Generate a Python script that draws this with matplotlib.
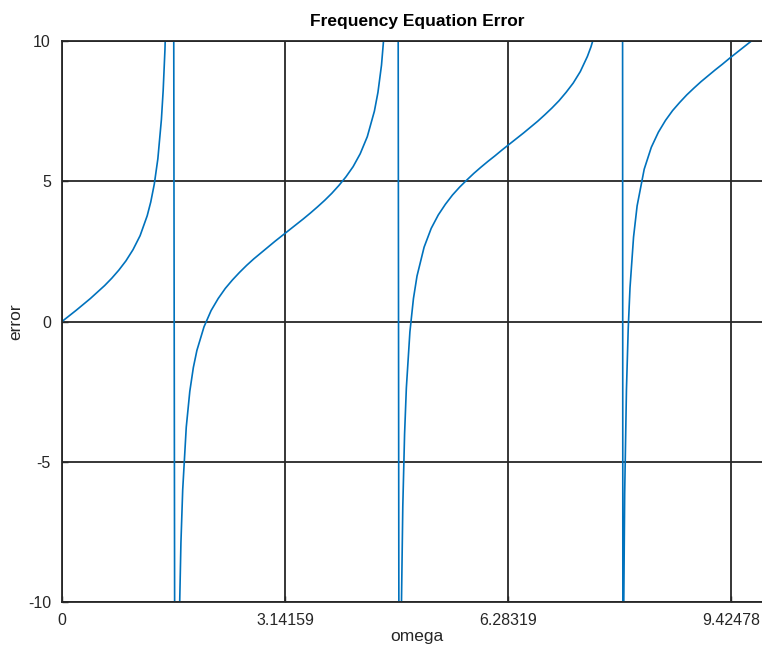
import numpy as np
import matplotlib
matplotlib.use("Agg")
import matplotlib.pyplot as plt

# values (error vs omega), incl. the jumps at the asymptotes
omega = [0.0, 0.1, 0.2, 0.3, 0.4, 0.5, 0.6, 0.7, 0.8, 0.9, 1.0, 1.1, 1.2, 1.25, 1.3,
         1.35, 1.4, 1.425, 1.45, 1.475, 1.5, 1.55,
         1.6, 1.625, 1.65, 1.675, 1.7, 1.75, 1.8, 1.85, 1.9, 2.0, 2.1, 2.2, 2.3, 2.4,
         2.5, 2.6, 2.7, 2.8, 2.9, 3.0, 3.1, 3.2, 3.3, 3.4, 3.5, 3.6, 3.7, 3.8, 3.9,
         4.0, 4.1, 4.2, 4.3, 4.4, 4.45, 4.5, 4.55, 4.6, 4.65, 4.7,
         4.75, 4.775, 4.8, 4.825, 4.85, 4.9, 4.95, 5.0, 5.1, 5.2, 5.3, 5.4, 5.5,
         5.6, 5.7, 5.8, 5.9, 6.0, 6.1, 6.2, 6.3, 6.4, 6.5, 6.6, 6.7, 6.8, 6.9,
         7.0, 7.1, 7.2, 7.3, 7.4, 7.45, 7.5, 7.6, 7.7, 7.8, 7.85,
         7.9, 7.925, 7.95, 7.975, 8.0, 8.05, 8.1, 8.2, 8.3, 8.4, 8.5, 8.6, 8.7,
         8.8, 8.9, 9.0, 9.1, 9.2, 9.3, 9.4, 9.5, 9.6, 9.7, 9.8, 9.9, 10.0]
error = [0.0, 0.20, 0.40, 0.61, 0.82, 1.05, 1.28, 1.54, 1.83, 2.16, 2.56, 3.06, 3.77, 4.26, 4.90,
         5.80, 7.20, 8.24, 9.69, 11.88, 15.60, 49.63,
         -32.63, -16.81, -10.95, -7.89, -6.00, -3.77, -2.49, -1.64, -1.03, -0.19, 0.39, 0.82, 1.18, 1.48,
         1.75, 2.00, 2.23, 2.44, 2.65, 2.86, 3.06, 3.26, 3.46, 3.66, 3.87, 4.09, 4.32, 4.57, 4.85,
         5.16, 5.52, 5.98, 6.59, 7.50, 8.17, 9.14, 10.66, 13.46, 20.65, 85.3,
         -21.85, -11.18, -6.59, -4.02, -2.37, -0.37, 0.82, 1.62, 2.65, 3.32, 3.80, 4.18, 4.51,
         4.79, 5.04, 5.28, 5.50, 5.71, 5.91, 6.12, 6.32, 6.52, 6.72, 6.93, 7.14, 7.37, 7.61,
         7.87, 8.17, 8.50, 8.91, 9.45, 9.79, 10.21, 11.45, 14.14, 26.3, 257.85,
         -13.82, -6.14, -2.43, -0.25, 1.20, 3.01, 4.12, 5.43, 6.21, 6.75, 7.17, 7.52, 7.81,
         8.08, 8.32, 8.55, 8.76, 8.97, 9.17, 9.38, 9.58, 9.78, 9.98, 10.19, 10.42, 10.65]

xticks = [0, 3.14159, 6.28319, 9.42478]
xtick_labels = ["0", "3.14159", "6.28319", "9.42478"]
yticks = [-10, -5, 0, 5, 10]

plt.rcParams['font.family'] = ['Liberation Sans', 'DejaVu Sans']
plt.rcParams['axes.unicode_minus'] = False

fig = plt.figure(figsize=(7.62, 6.5), dpi=100)
ax = fig.add_axes([62 / 762, 48 / 650, 710 / 762, 561 / 650])

ax.plot(omega, error, color='#0072BD', linewidth=1.2)

ax.set_xlim(0, 10)
ax.set_ylim(-10, 10)
ax.set_xticks(xticks)
ax.set_xticklabels(xtick_labels)
ax.set_yticks(yticks)

ax.grid(True, color='#262626', linewidth=1.3)
ax.set_axisbelow(True)
for s in ax.spines.values():
    s.set_color('#262626')
    s.set_linewidth(1.3)

ax.tick_params(direction='in', length=4, width=1, colors='#262626',
               labelsize=11.5, pad=8)

ax.set_title("Frequency Equation Error", fontsize=12.5, fontweight='bold', pad=11)
ax.set_xlabel("omega", fontsize=12.5, color='#262626', labelpad=1)
ax.set_ylabel("error", fontsize=12.5, color='#262626', labelpad=3)

fig.savefig("out.png", dpi=100)
